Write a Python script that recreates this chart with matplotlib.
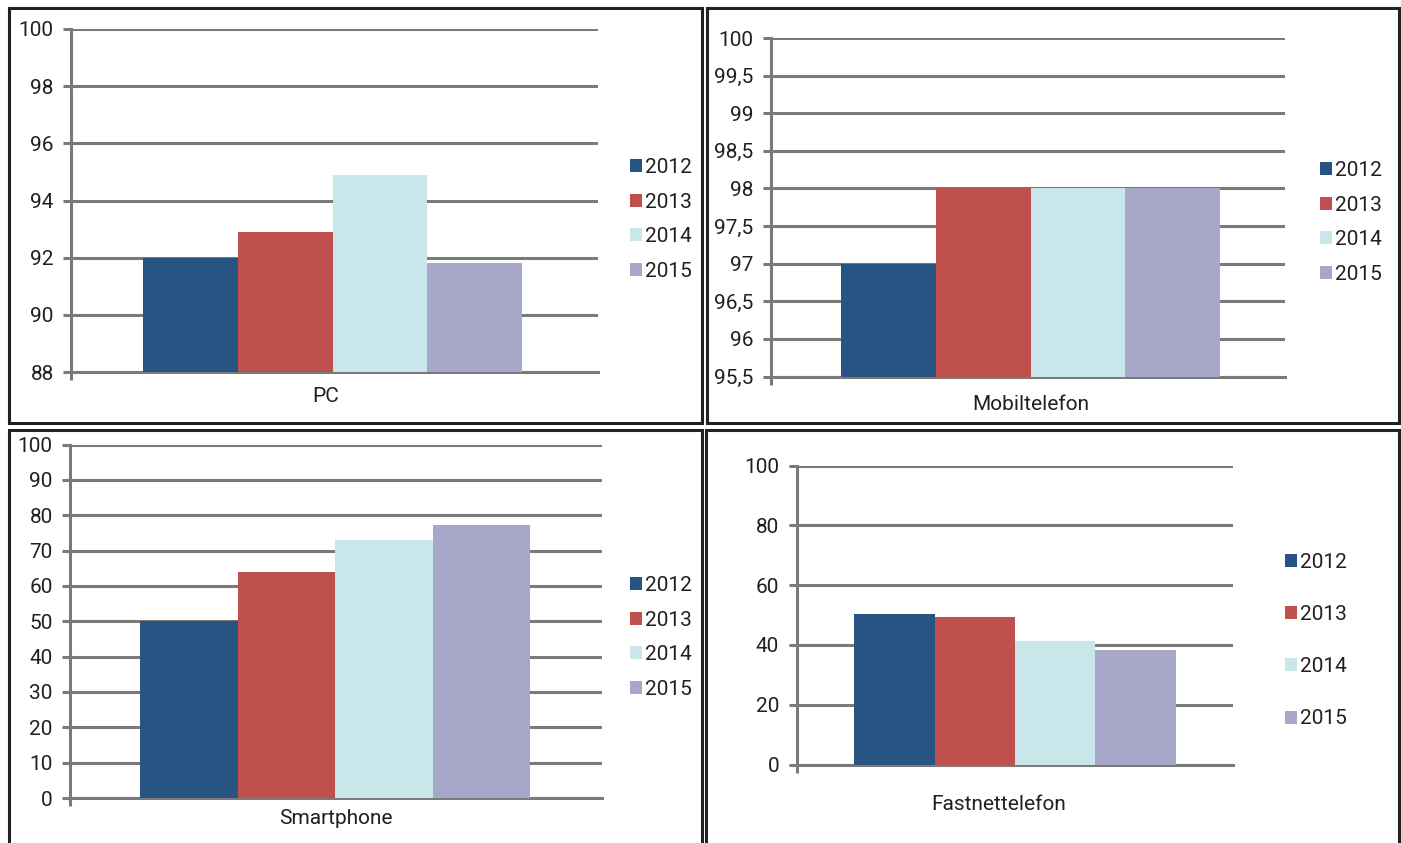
import matplotlib.pyplot as plt
from matplotlib.patches import Rectangle

# data
years = ["2012", "2013", "2014", "2015"]
categories = ["PC", "Mobiltelefon", "Smartphone", "Fastnettelefon"]

pc_values = [92.0, 92.9, 94.9, 91.8]
mobil_values = [97.0, 98.0, 98.0, 98.0]
smart_values = [50.0, 63.8, 73.1, 77.3]
fast_values = [50.3, 49.3, 41.3, 38.3]

pc_ticks = [88, 90, 92, 94, 96, 98, 100]
pc_ticklabels = ["88", "90", "92", "94", "96", "98", "100"]
mobil_ticks = [95.5, 96, 96.5, 97, 97.5, 98, 98.5, 99, 99.5, 100]
mobil_ticklabels = ["95,5", "96", "96,5", "97", "97,5", "98", "98,5", "99", "99,5", "100"]
smart_ticks = [0, 10, 20, 30, 40, 50, 60, 70, 80, 90, 100]
smart_ticklabels = [str(t) for t in smart_ticks]
fast_ticks = [0, 20, 40, 60, 80, 100]
fast_ticklabels = [str(t) for t in fast_ticks]

colors = ["#285483", "#c0504d", "#c9e6ea", "#a7a7c9"]
GRID = "#7a7a7a"
TEXT = "#231f20"

W, H = 1401, 843
plt.rcParams["font.family"] = ["Roboto", "DejaVu Sans"]

fig = plt.figure(figsize=(W / 100, H / 100), dpi=100)


def fx(x):
    return x / W


def fy(y):
    return 1 - y / H


def panel(left, top, right, bottom, s, e, values, ticks, ticklabels,
          label, label_xy, legend_xy, legend_spacing):
    ax = fig.add_axes([fx(left), fy(bottom), fx(right) - fx(left), fy(top) - fy(bottom)])
    w = (e - s) / len(values)
    for i, (v, c) in enumerate(zip(values, colors)):
        ax.bar(s + i * w, v - ticks[0], width=w, bottom=ticks[0], align="edge",
               color=c, label=years[i], zorder=2)
    ax.set_xlim(0, 1)
    ax.set_ylim(ticks[0], ticks[-1])
    ax.set_yticks(ticks)
    ax.set_yticklabels(ticklabels)
    ax.set_xticks([0])
    ax.set_xticklabels([""])
    ax.grid(axis="y", color=GRID, linewidth=2.2, zorder=0)
    ax.set_axisbelow(True)
    for side in ["top", "right"]:
        ax.spines[side].set_visible(False)
    for side in ["left", "bottom"]:
        ax.spines[side].set_color(GRID)
        ax.spines[side].set_linewidth(2.2)
    ax.spines["bottom"].set_zorder(1)
    ax.tick_params(axis="y", direction="out", length=5.5, width=2.2, color=GRID,
                   pad=7, labelsize=15, labelcolor=TEXT)
    ax.tick_params(axis="x", direction="out", length=6, width=2.2, color=GRID)
    fig.text(fx(label_xy[0]), fy(label_xy[1]), label, ha="center", va="center",
             fontsize=15, color=TEXT)
    leg = ax.legend(loc="center left", bbox_to_anchor=(fx(legend_xy[0]), fy(legend_xy[1])),
                    bbox_transform=fig.transFigure, frameon=False, fontsize=15,
                    handlelength=0.58, handleheight=0.58, handletextpad=0.15,
                    labelspacing=legend_spacing, borderpad=0, borderaxespad=0)
    for t in leg.get_texts():
        t.set_color(TEXT)
    return ax


panel(71, 29, 598, 372, 0.137, 0.856, pc_values, pc_ticks, pc_ticklabels,
      categories[0], (326, 396), (630, 219.5), 0.75)
panel(771, 38, 1285, 376.5, 0.136, 0.874, mobil_values, mobil_ticks, mobil_ticklabels,
      categories[1], (1031, 404), (1320, 222.5), 0.75)
panel(70, 444.5, 602, 798, 0.132, 0.865, smart_values, smart_ticks, smart_ticklabels,
      categories[2], (336, 818), (630, 637.5), 0.75)
panel(796.5, 465.5, 1233, 764.5, 0.132, 0.869, fast_values, fast_ticks, fast_ticklabels,
      categories[3], (999, 804), (1285, 640.5), 1.6)

# panel frames
frames = [(8.5, 7.5, 701.5, 422.5), (707, 7.5, 1399, 422.5),
          (8.5, 430, 701.5, 860), (706, 430, 1399, 860)]
for l, t, r, b in frames:
    fig.patches.append(Rectangle((fx(l), fy(b)), fx(r) - fx(l), fy(t) - fy(b),
                                 transform=fig.transFigure, fill=False,
                                 edgecolor="#222222", linewidth=2.2))

fig.savefig("out.png", dpi=100)
